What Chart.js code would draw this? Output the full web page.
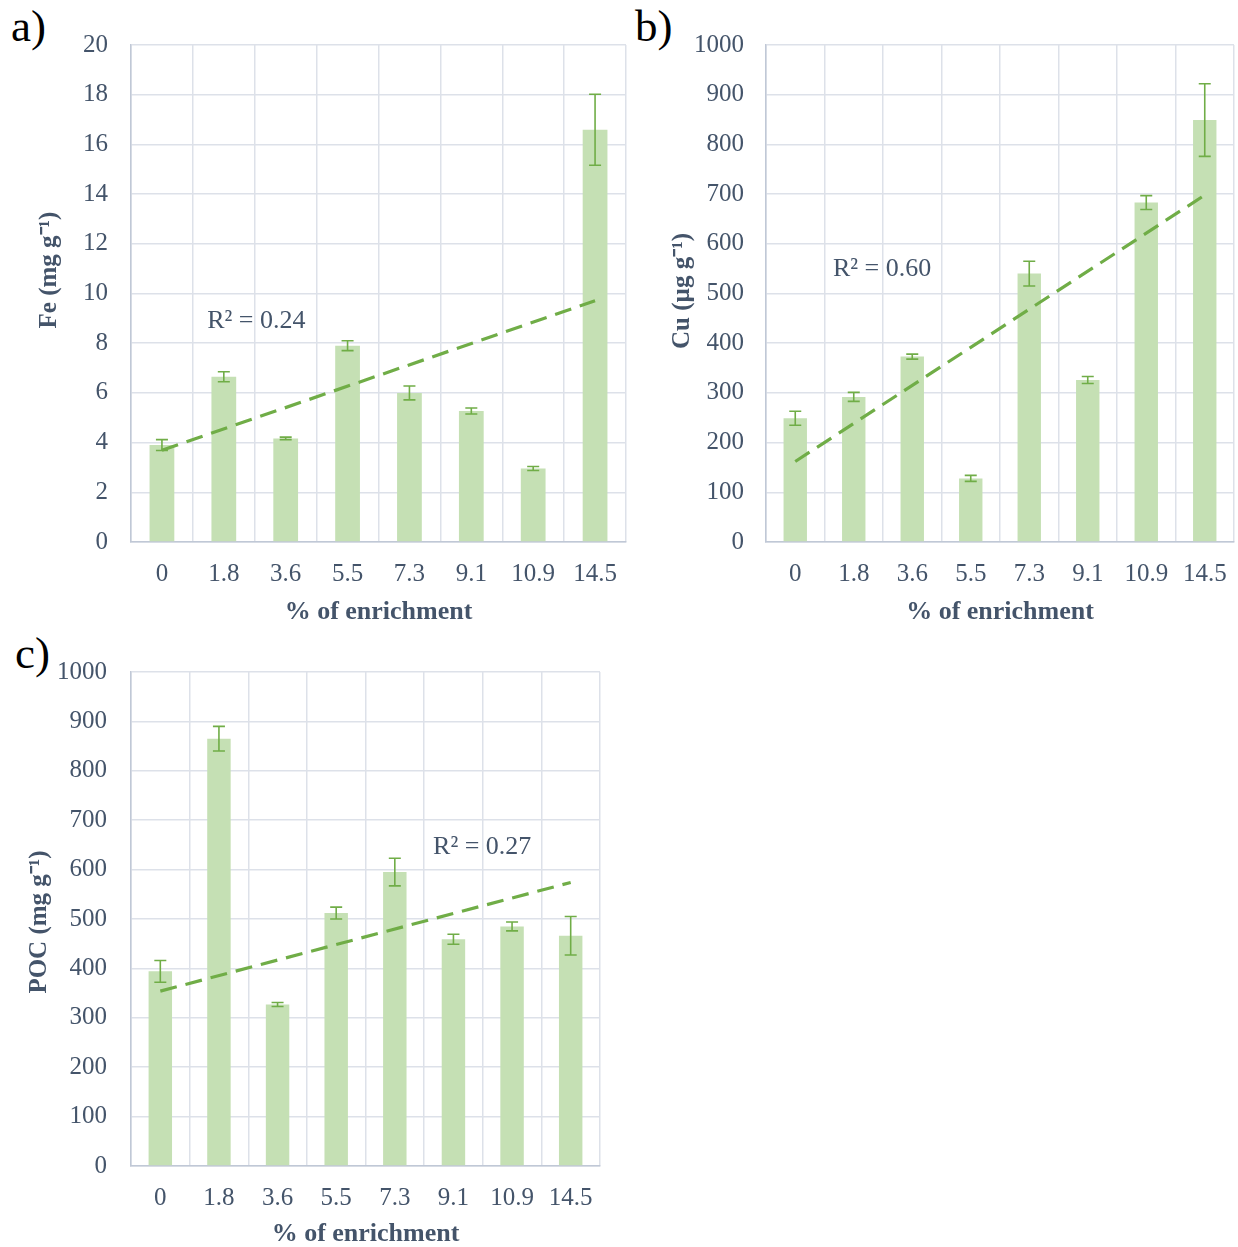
<!DOCTYPE html>
<html>
<head>
<meta charset="utf-8">
<script src="https://cdn.jsdelivr.net/npm/chart.js@4.4.0/dist/chart.umd.min.js"></script>
<style>
  html, body { margin: 0; padding: 0; background: #ffffff; }
  body { width: 1238px; height: 1247px; position: relative; overflow: hidden; }
  .wrap { position: absolute; }
  .panel-label { position: absolute; font-family: "Liberation Serif", "Times New Roman", serif; font-size: 45px; color: #000; line-height: 1; }
</style>
</head>
<body>
<div class="panel-label" style="left:11px; top:4px;">a)</div>
<div class="panel-label" style="left:635px; top:4px;">b)</div>
<div class="panel-label" style="left:15px; top:631px;">c)</div>
<div class="wrap" style="left:0px; top:0px; width:640px; height:630px;"><canvas id="chartA"></canvas></div>
<div class="wrap" style="left:640px; top:0px; width:610px; height:630px;"><canvas id="chartB"></canvas></div>
<div class="wrap" style="left:0px; top:630px; width:640px; height:617px;"><canvas id="chartC"></canvas></div>
<script>
// ---- Data ----
const categories = ['0', '1.8', '3.6', '5.5', '7.3', '9.1', '10.9', '14.5'];

const feValues = [3.9, 6.65, 4.17, 7.9, 6.0, 5.27, 2.96, 16.59];
const feErrors = [0.22, 0.2, 0.05, 0.2, 0.28, 0.12, 0.08, 1.43];
const feTrend = [3.69, 9.71];
const feR2 = 'R² = 0.24';

const cuValues = [249, 292, 373, 128, 540, 326, 683, 849];
const cuErrors = [14, 9, 5, 6, 25, 7, 14, 73];
const cuTrend = [162, 698];
const cuR2 = 'R² = 0.60';

const pocValues = [394, 865, 327, 512, 595, 459, 485, 466];
const pocErrors = [22, 25, 4, 12, 28, 10, 9, 39];
const pocTrend = [354, 574];
const pocR2 = 'R² = 0.27';

const xTitle = '% of enrichment';

// ---- Styles ----
const FONT = '"Liberation Serif", "Times New Roman", serif';
Chart.defaults.font.family = FONT;
const BAR = '#c5e0b4';
const GREEN = '#70ad47';
const TXT = '#44546a';
const GRID = '#dde1e9';
const AXIS = '#c0c8d6';

const errorBarPlugin = {
  id: 'errorBars',
  afterDatasetsDraw(chart, args, opts) {
    const errs = opts.errors;
    if (!errs) return;
    const meta = chart.getDatasetMeta(0);
    const ys = chart.scales.y;
    const vals = chart.data.datasets[0].data;
    const ctx = chart.ctx;
    ctx.save();
    ctx.strokeStyle = GREEN;
    ctx.lineWidth = 1.6;
    meta.data.forEach((bar, i) => {
      const x = bar.x;
      const yTop = ys.getPixelForValue(vals[i] + errs[i]);
      const yBot = ys.getPixelForValue(vals[i] - errs[i]);
      const cap = 6;
      ctx.beginPath();
      ctx.moveTo(x, yTop); ctx.lineTo(x, yBot);
      ctx.moveTo(x - cap, yTop); ctx.lineTo(x + cap, yTop);
      ctx.moveTo(x - cap, yBot); ctx.lineTo(x + cap, yBot);
      ctx.stroke();
    });
    ctx.restore();
  }
};

const textPlugin = {
  id: 'extraText',
  afterDraw(chart, args, opts) {
    const ctx = chart.ctx;
    const area = chart.chartArea;
    ctx.save();
    if (opts.r2) {
      const x = area.left + opts.r2fx * (area.right - area.left);
      const y = chart.scales.y.getPixelForValue(opts.r2y);
      ctx.font = '26px ' + FONT;
      ctx.fillStyle = TXT;
      ctx.textAlign = 'left';
      ctx.textBaseline = 'middle';
      ctx.fillText(opts.r2, x, y);
    }
    if (opts.yTitle) {
      ctx.translate(opts.yTitleX, opts.yTitleY);
      ctx.rotate(-Math.PI / 2);
      ctx.font = 'bold 25px ' + FONT;
      ctx.fillStyle = TXT;
      ctx.textAlign = 'center';
      ctx.textBaseline = 'middle';
      ctx.fillText(opts.yTitle, 0, 0);
    }
    ctx.restore();
  }
};

function trendData(t) {
  return categories.map((c, i) => i === 0 ? t[0] : (i === categories.length - 1 ? t[1] : null));
}

function makeChart(id, cfg) {
  const ctx = document.getElementById(id);
  return new Chart(ctx, {
    type: 'bar',
    data: {
      labels: categories,
      datasets: [
        {
          type: 'bar',
          data: cfg.values,
          backgroundColor: BAR,
          borderWidth: 0,
          categoryPercentage: 1.0,
          barPercentage: 0.4,
          order: 2
        },
        {
          type: 'line',
          data: trendData(cfg.trend),
          borderColor: GREEN,
          borderWidth: 3.2,
          borderDash: [17, 9],
          pointRadius: 0,
          spanGaps: true,
          fill: false,
          order: 1
        }
      ]
    },
    options: {
      responsive: true,
      maintainAspectRatio: false,
      animation: false,
      events: [],
      layout: { padding: cfg.padding },
      plugins: {
        legend: { display: false },
        tooltip: { enabled: false },
        errorBars: { errors: cfg.errors },
        extraText: { r2: cfg.r2, r2fx: cfg.r2fx, r2y: cfg.r2y, yTitle: cfg.yTitle, yTitleX: cfg.yTitleX, yTitleY: cfg.yTitleY }
      },
      scales: {
        x: {
          offset: true,
          grid: { color: GRID, lineWidth: 1.5, offset: true, drawTicks: false },
          border: { color: AXIS, width: 1.5 },
          ticks: { color: TXT, font: { family: FONT, size: 25 }, padding: 17, maxRotation: 0 },
          title: { display: true, text: xTitle, color: TXT, font: { family: FONT, size: 26, weight: 'bold', lineHeight: 1 }, padding: { top: 0, bottom: cfg.xTitlePad } },
          afterFit(scale) { scale.height = cfg.xHeight; }
        },
        y: {
          min: 0,
          max: cfg.max,
          ticks: { stepSize: cfg.step, color: TXT, font: { family: FONT, size: 25 }, padding: cfg.yTickPad, callback: (v) => String(v) },
          grid: { color: GRID, lineWidth: 1.5, drawTicks: false },
          border: { color: AXIS, width: 1.5 },
          title: { display: false },
          afterFit(scale) { scale.width = cfg.yWidth; }
        }
      }
    },
    plugins: [errorBarPlugin, textPlugin]
  });
}

makeChart('chartA', {
  values: feValues, errors: feErrors, trend: feTrend, r2: feR2, r2fx: 0.154, r2y: 8.9,
  max: 20, step: 2, yTitle: 'Fe (mg g⁻¹)', yTitleX: 50, yTitleY: 270,
  padding: { left: 0, top: 45, right: 14, bottom: 0 },
  yWidth: 131, xHeight: 88, xTitlePad: 5, yTickPad: 23
});

makeChart('chartB', {
  values: cuValues, errors: cuErrors, trend: cuTrend, r2: cuR2, r2fx: 0.143, r2y: 549,
  max: 1000, step: 100, yTitle: 'Cu (µg g⁻¹)', yTitleX: 43, yTitleY: 291,
  padding: { left: 0, top: 45, right: 16, bottom: 0 },
  yWidth: 126, xHeight: 88, xTitlePad: 5, yTickPad: 22
});

makeChart('chartC', {
  values: pocValues, errors: pocErrors, trend: pocTrend, r2: pocR2, r2fx: 0.644, r2y: 646,
  max: 1000, step: 100, yTitle: 'POC (mg g⁻¹)', yTitleX: 40, yTitleY: 292,
  padding: { left: 0, top: 42, right: 40, bottom: 0 },
  yWidth: 131, xHeight: 81, xTitlePad: 0, yTickPad: 24
});
</script>
</body>
</html>
